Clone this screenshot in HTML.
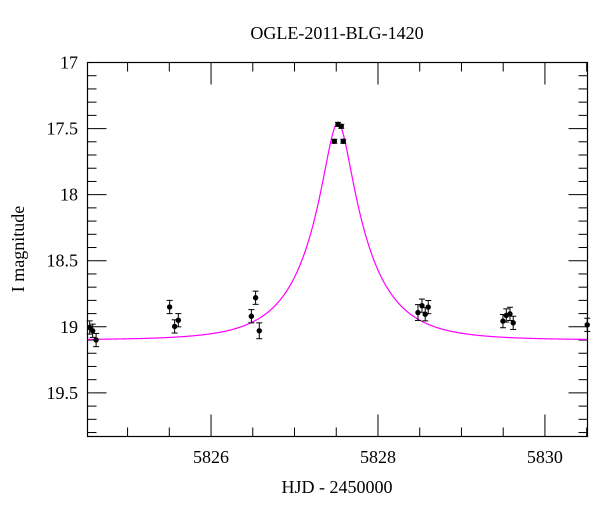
<!DOCTYPE html>
<html><head><meta charset="utf-8">
<style>
body{margin:0;background:#fff;}
svg{display:block;font-family:"Liberation Serif",serif;}
</style></head>
<body>
<svg id="chart" width="600" height="512" viewBox="0 0 600 512" xmlns="http://www.w3.org/2000/svg">
<text x="337" y="39" font-size="18" text-anchor="middle">OGLE-2011-BLG-1420</text>
<text x="337" y="493" font-size="18" text-anchor="middle">HJD - 2450000</text>
<text transform="translate(24,249) rotate(-90)" font-size="18" text-anchor="middle">I magnitude</text>
<g id="grid"></g>
<g id="model"></g>
<g id="points"></g>
<rect x="87.5" y="62.5" width="500" height="374" fill="none" stroke="#000" stroke-width="1.2"/>
</svg>
<script>
const hjd = [5824.546,5824.582,5824.623,5825.504,5825.564,5825.608,5826.483,5826.534,5826.578,5827.477,5827.521,5827.560,5827.584,5828.479,5828.527,5828.566,5828.602,5829.497,5829.537,5829.581,5829.620,5830.507];
const mag = [19.005,19.03,19.10,18.85,18.997,18.95,18.92,18.78,19.03,17.596,17.468,17.483,17.596,18.892,18.84,18.905,18.851,18.957,18.914,18.902,18.97,18.985];
const err = [0.05,0.05,0.05,0.05,0.05,0.05,0.05,0.05,0.06,0.015,0.015,0.015,0.015,0.06,0.05,0.05,0.05,0.05,0.05,0.05,0.05,0.05];
const xTickLabels = [5826,5828,5830];
const yTickLabels = [17,17.5,18,18.5,19,19.5];
const modelT0 = 5827.52, modelU0 = 0.225, modelTE = 0.69, modelBase = 19.1;

const X0=87.5,X1=587.5,Y0=62.5,Y1=436.5;
const xMin=5824.52,xMax=5830.51,yMin=17,yMax=19.83;
const sx=v=>X0+(v-xMin)/(xMax-xMin)*(X1-X0);
const sy=v=>Y0+(v-yMin)/(yMax-yMin)*(Y1-Y0);
const NS="http://www.w3.org/2000/svg";
function mk(tag,attrs,parent){const e=document.createElementNS(NS,tag);for(const k in attrs)e.setAttribute(k,attrs[k]);parent.appendChild(e);return e;}
const grid=document.getElementById('grid');
// x ticks every 0.5
for(let t=Math.ceil(xMin*2)/2;t<=xMax;t+=0.5){
  const major=xTickLabels.includes(t);
  const L=major?22:9, x=sx(t);
  const a=mk('line',{x1:x,x2:x,y1:Y1,y2:Y1-L,stroke:'#000'},grid);
  
  
  const b=mk('line',{x1:x,x2:x,y1:Y0,y2:Y0+L,stroke:'#000'},grid);
  
  
}
xTickLabels.forEach(v=>{
  const t=mk('text',{x:sx(v),y:463,'font-size':18,'text-anchor':'middle'},grid);
  t.textContent=v;
  
  
});
// y ticks every 0.1
for(let i=0;yMin+i*0.1<=yMax+1e-9;i++){
  const v=yMin+i*0.1, major=(i%5===0), L=major?19:9, y=sy(v);
  const a=mk('line',{x1:X0,x2:X0+L,y1:y,y2:y,stroke:'#000'},grid);
  
  
  const b=mk('line',{x1:X1,x2:X1-L,y1:y,y2:y,stroke:'#000'},grid);
  
  
}
yTickLabels.forEach(v=>{
  const t=mk('text',{x:78,y:sy(v)+6,'font-size':18,'text-anchor':'end'},grid);
  t.textContent=v;
  
  
});
// model
function modelMag(t){const tau=(t-modelT0)/modelTE;const u=Math.sqrt(modelU0*modelU0+tau*tau);const A=(u*u+2)/(u*Math.sqrt(u*u+4));return modelBase-2.5*Math.log10(A);}
let d='';
for(let i=0;i<=600;i++){const t=xMin+(xMax-xMin)*i/600;d+=(i?'L':'M')+sx(t).toFixed(2)+','+sy(modelMag(t)).toFixed(2);}
const m=mk('path',{d:d,fill:'none',stroke:'#ff00ff','stroke-width':1.2},document.getElementById('model'));


// points
const pg=document.getElementById('points');
hjd.forEach((t,i)=>{
  const x=sx(t),y=sy(mag[i]),yt=sy(mag[i]-err[i]),yb=sy(mag[i]+err[i]);
  const g=mk('g',{},pg);
  
  
  mk('line',{x1:x,x2:x,y1:yt,y2:yb,stroke:'#000'},g);
  mk('line',{x1:x-3,x2:x+3,y1:yt,y2:yt,stroke:'#000'},g);
  mk('line',{x1:x-3,x2:x+3,y1:yb,y2:yb,stroke:'#000'},g);
  mk('circle',{cx:x,cy:y,r:2.7,fill:'#000'},g);
});
</script>
</body></html>
